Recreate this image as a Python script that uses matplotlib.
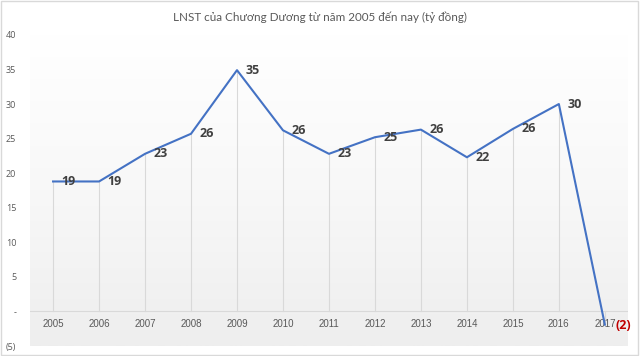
import matplotlib
matplotlib.use("Agg")
import matplotlib.pyplot as plt
import numpy as np
from matplotlib.patches import Rectangle
from matplotlib.colors import LinearSegmentedColormap

years = ["2005", "2006", "2007", "2008", "2009", "2010", "2011",
         "2012", "2013", "2014", "2015", "2016", "2017"]
values = [18.8, 18.8, 22.8, 25.7, 34.9, 26.2, 22.8, 25.2, 26.3, 22.3, 26.4, 30.0, -1.9]
labels = ["19", "19", "23", "26", "35", "26", "23", "25", "26", "22", "26", "30", "(2)"]
yticks = [-5, 0, 5, 10, 15, 20, 25, 30, 35, 40]
ytick_labels = ["(5)", "-", "5", "10", "15", "20", "25", "30", "35", "40"]
title = "LNST của Chương Dương từ năm 2005 đến nay (tỷ đồng)"

plt.rcParams['font.family'] = ['Open Sans', 'DejaVu Sans']

fig = plt.figure(figsize=(6.4, 3.56), dpi=100)
fig.patch.set_facecolor("white")
ax = fig.add_axes([0.047, 0.028, 0.934, 0.874])

x = np.arange(len(years))
ax.set_xlim(-0.5, len(years) - 0.5)

# gradient background
grad = np.linspace(0, 1, 256).reshape(-1, 1)
cmap = LinearSegmentedColormap.from_list("g", ["#ffffff", "#f8f8f8", "#eeeeee"])
ax.imshow(grad, extent=[-0.5, len(years) - 0.5, -5, 40], aspect="auto",
          cmap=cmap, zorder=0, origin="upper")
ax.set_ylim(-5, 40)

# drop lines
for xi, v in zip(x, values):
    ax.plot([xi, xi], [0, v], color="#d9d9d9", lw=0.8, zorder=1)

ax.axhline(0, color="#d9d9d9", lw=0.8, zorder=1)
ax.plot(x, values, color="#4472c4", lw=1.5, zorder=3)

for xi, v, lab in zip(x, values, labels):
    if v < 0:
        ax.text(xi + 0.24, v - 0.2, lab, color="#c00000", fontsize=9, fontweight="bold",
                ha="left", va="center", zorder=4)
    else:
        ax.text(xi + 0.18, v, lab, color="#404040", fontsize=9, fontweight="bold",
                ha="left", va="center", zorder=4)

for xi, yr in zip(x, years):
    ax.text(xi, -1.8, yr, color="#595959", fontsize=7, ha="center", va="center",
            family=["Liberation Sans Narrow", "Liberation Sans", "DejaVu Sans"], zorder=2)

ax.set_yticks(yticks)
ax.set_yticklabels(ytick_labels, color="#595959", fontsize=6.5)
ax.tick_params(axis="y", length=0, pad=10)
ax.set_xticks([])
for s in ax.spines.values():
    s.set_visible(False)

fig.text(0.5, 0.952, title, ha="center", va="center", fontsize=8.4,
         color="#595959", family=["Lato", "DejaVu Sans"])

fig.patches.append(Rectangle((0.002, 0.003), 0.995, 0.994, transform=fig.transFigure,
                             fill=False, edgecolor="#d9d9d9", lw=1))

fig.savefig("out.png", dpi=100)
